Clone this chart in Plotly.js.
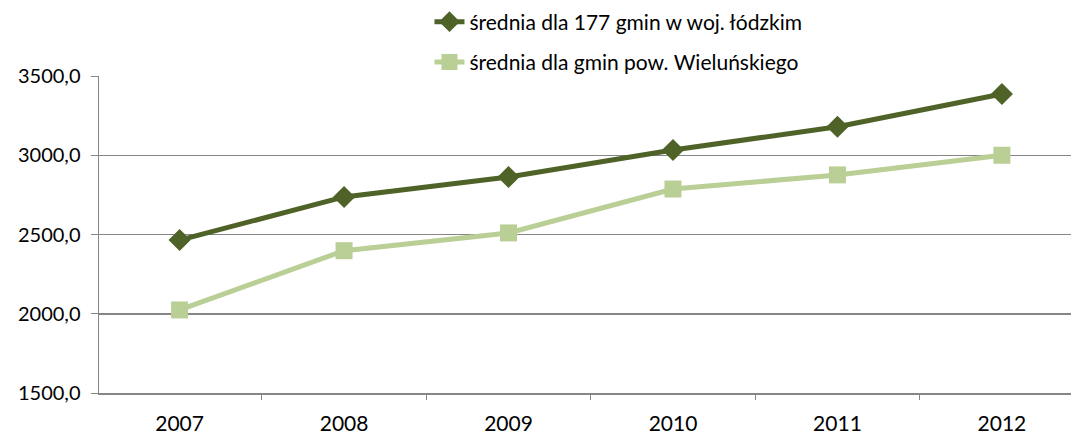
<!DOCTYPE html>
<html>
<head>
<meta charset="utf-8">
<script src="https://cdn.plot.ly/plotly-3.0.1.min.js"></script>
<style>html,body{margin:0;padding:0;background:#fff;}#chart{width:1071px;height:435px;}</style>
</head>
<body>
<div id="chart"></div>
<script>
var years = ["2007", "2008", "2009", "2010", "2011", "2012"];
var seriesNames = ["średnia dla 177 gmin w woj. łódzkim", "średnia dla gmin pow. Wieluńskiego"];
var lodzkie = [2465, 2737, 2863, 3033, 3180, 3386];
var wielun = [2024, 2398, 2510, 2787, 2876, 3000];
var yTicks = [1500, 2000, 2500, 3000, 3500];

var FONT = "Lato, 'Open Sans', sans-serif";
var traces = [
  {x: years, y: lodzkie, name: seriesNames[0], type: "scatter", mode: "lines+markers",
   legendgroup: "a",
   line: {color: "#4F6228", width: 5},
   marker: {symbol: "diamond", size: 17, color: "#4F6228"}},
  {x: years, y: wielun, name: seriesNames[1], type: "scatter", mode: "lines+markers",
   legendgroup: "b",
   line: {color: "#B9CF96", width: 5},
   marker: {symbol: "square", size: 17, color: "#B9CF96"}}
];

var layout = {
  width: 1071, height: 435,
  margin: {l: 99, r: 0, t: 76, b: 42},
  paper_bgcolor: "#fff", plot_bgcolor: "#fff",
  font: {family: FONT, size: 20, color: "#000"},
  separators: ", ",
  showlegend: true,
  legend: {x: 0.34, xanchor: "left", y: 1.235, yanchor: "top", traceorder: "grouped",
           tracegroupgap: 10, font: {family: FONT, size: 21, color: "#000"}, bgcolor: "rgba(0,0,0,0)"},
  xaxis: {type: "category", range: [-0.49, 5.42], showgrid: false, zeroline: false,
          showline: true, linecolor: "#868686", linewidth: 1.5,
          ticks: "outside", tickson: "boundaries", ticklen: 5, tickcolor: "#868686", tickwidth: 1,
          tickfont: {family: FONT, size: 21}, ticklabelstandoff: 11, fixedrange: true},
  yaxis: {range: [1500, 3500], tickvals: yTicks, tickformat: ".1f",
          showgrid: true, gridcolor: "#868686", gridwidth: 1.5, zeroline: false,
          showline: true, linecolor: "#868686", linewidth: 1.5,
          ticks: "outside", ticklen: 7, tickcolor: "#868686", tickwidth: 1,
          tickfont: {family: FONT, size: 20}, ticklabelstandoff: 6, fixedrange: true}
};

Plotly.newPlot("chart", traces, layout, {staticPlot: true, displayModeBar: false});
</script>
</body>
</html>
